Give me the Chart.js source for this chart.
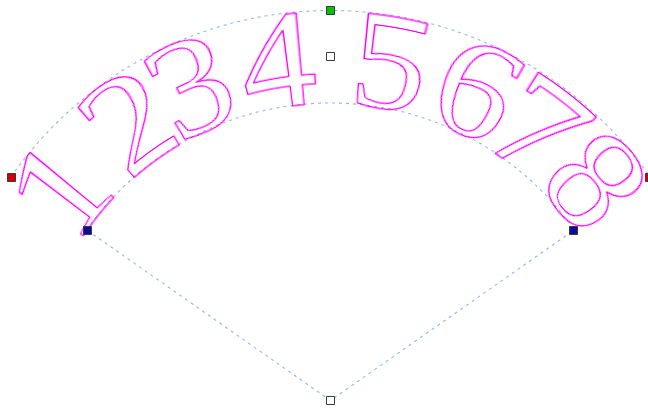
<!DOCTYPE html>
<html><head><meta charset="utf-8">
<script src="https://cdn.jsdelivr.net/npm/chart.js@4/dist/chart.umd.min.js"></script>
<style>html,body{margin:0;padding:0;background:#fff;overflow:hidden}#wrap{width:648px;height:409px;position:relative}</style>
</head><body><div id="wrap"><canvas id="c"></canvas></div>
<script>
// ---- data ----
const chars = ['1','2','3','4','5','6','7','8'];
const charAngles = [-51.6, -35.9, -23.8, -9.0, 10.4, 25.4, 37.8, 50.4]; // degrees from vertical
const handleLabels = ['apex','inner left','inner right','outer left','outer right','top','middle'];
const handleX = [0, -243, 243, -319, 319, 0, 0];
const handleY = [0, 170, 170, 223, 223, 390, 344];
const innerRadius = 297.5;
const outerRadius = 390;
const sweepAngle = 55;
const xRange = [-330.5, 317.5];
const yRange = [-8.5, 400.5];

const handleColors = ['#ffffff','#0c0c9c','#0c0c9c','#d00000','#d00000','#00c400','#ffffff'];
const dashColor = '#97b6de';
const textColor = [255, 0, 255];
const hScale = 1.14;
const fontFamily = '"Liberation Serif", "Times New Roman", serif';

const fanPlugin = {
  id: 'fan',
  beforeDatasetsDraw(chart) {
    const ctx = chart.ctx;
    const xs = chart.scales.x, ys = chart.scales.y;
    const cx = xs.getPixelForValue(0), cy = ys.getPixelForValue(0);
    const unit = Math.abs(xs.getPixelForValue(1) - xs.getPixelForValue(0));
    const rIn = innerRadius * unit, rOut = outerRadius * unit;
    const sw = sweepAngle * Math.PI / 180;
    ctx.save();
    ctx.strokeStyle = dashColor; ctx.lineWidth = 1.1; ctx.setLineDash([3, 4]);
    ctx.beginPath(); ctx.arc(cx, cy, rOut, -Math.PI/2 - sw, -Math.PI/2 + sw); ctx.stroke();
    ctx.beginPath(); ctx.arc(cx, cy, rIn, -Math.PI/2 - sw, -Math.PI/2 + sw); ctx.stroke();
    ctx.beginPath();
    ctx.moveTo(xs.getPixelForValue(handleX[1]), ys.getPixelForValue(handleY[1]));
    ctx.lineTo(cx, cy);
    ctx.lineTo(xs.getPixelForValue(handleX[2]), ys.getPixelForValue(handleY[2]));
    ctx.stroke();
    ctx.restore();

    // ---- text bent along the band (envelope warp) ----
    const band = rOut - rIn;
    const mc = document.createElement('canvas').getContext('2d');
    mc.font = '100px ' + fontFamily;
    const A0 = mc.measureText(chars.join('')).actualBoundingBoxAscent;
    const S = 100 * band / A0;
    const rMid = (rIn + rOut) / 2;
    const k = hScale / rMid;
    const maxAng = 64 * Math.PI / 180;
    const W = Math.ceil(2 * maxAng / k) + 4;
    const x0 = W / 2;
    const margin = 20;
    const H = Math.ceil(band + 2 * margin);
    const yb = band + margin;
    const src = document.createElement('canvas');
    src.width = W; src.height = H;
    const sc = src.getContext('2d');
    sc.font = S + 'px ' + fontFamily;
    sc.textBaseline = 'alphabetic'; sc.textAlign = 'left';
    sc.strokeStyle = '#000'; sc.lineWidth = 1; sc.lineJoin = 'round';
    chars.forEach((ch, i) => {
      const m = sc.measureText(ch);
      const target = x0 + (charAngles[i] * Math.PI / 180) / k;
      const dx = target - (m.actualBoundingBoxRight - m.actualBoundingBoxLeft) / 2;
      sc.strokeText(ch, dx, yb);
    });
    const sd = sc.getImageData(0, 0, W, H).data;
    const cw = chart.canvas.width, chh = chart.canvas.height;
    const out = document.createElement('canvas');
    out.width = cw; out.height = chh;
    const oc = out.getContext('2d');
    const img = oc.createImageData(cw, chh);
    const od = img.data;
    const sample = (fx, fy) => {
      const x = fx - 0.5, y = fy - 0.5;
      const ix = Math.floor(x), iy = Math.floor(y);
      const tx = x - ix, ty = y - iy;
      const g = (a, b) => (a < 0 || b < 0 || a >= W || b >= H) ? 0 : sd[(b * W + a) * 4 + 3];
      return (g(ix, iy) * (1 - tx) + g(ix + 1, iy) * tx) * (1 - ty) + (g(ix, iy + 1) * (1 - tx) + g(ix + 1, iy + 1) * tx) * ty;
    };
    const yMax = Math.min(chh, Math.ceil(cy));
    for (let py = 0; py < yMax; py++) {
      for (let px = 0; px < cw; px++) {
        const dx = px + 0.5 - cx, dy = cy - (py + 0.5);
        const r = Math.hypot(dx, dy);
        if (r < rIn - margin || r > rOut + margin) continue;
        const ang = Math.atan2(dx, dy);
        if (Math.abs(ang) > maxAng) continue;
        const u = x0 + ang / k;
        const v = yb - (r - rIn);
        const a = sample(u, v);
        if (a > 0) {
          const o = (py * cw + px) * 4;
          od[o] = textColor[0]; od[o + 1] = textColor[1]; od[o + 2] = textColor[2];
          od[o + 3] = Math.min(255, a * 1.3);
        }
      }
    }
    oc.putImageData(img, 0, 0);
    ctx.save();
    ctx.setTransform(1, 0, 0, 1, 0, 0);
    ctx.drawImage(out, 0, 0);
    ctx.restore();
  }
};

new Chart(document.getElementById('c'), {
  type: 'scatter',
  data: {
    labels: handleLabels,
    datasets: [{
      label: 'handles',
      data: handleX.map((v, i) => ({ x: v, y: handleY[i] })),
      pointStyle: 'rect',
      pointRadius: 5.657,
      pointHoverRadius: 5.657,
      pointBackgroundColor: handleColors,
      pointBorderColor: '#3a3a3a',
      pointBorderWidth: 1,
      showLine: false,
      clip: false
    }]
  },
  options: {
    responsive: true,
    maintainAspectRatio: false,
    animation: false,
    events: [],
    layout: { padding: 0, autoPadding: false },
    plugins: { legend: { display: false }, tooltip: { enabled: false } },
    scales: {
      x: { type: 'linear', min: xRange[0], max: xRange[1], display: false },
      y: { type: 'linear', min: yRange[0], max: yRange[1], display: false }
    }
  },
  plugins: [fanPlugin]
});
</script>
</body></html>
